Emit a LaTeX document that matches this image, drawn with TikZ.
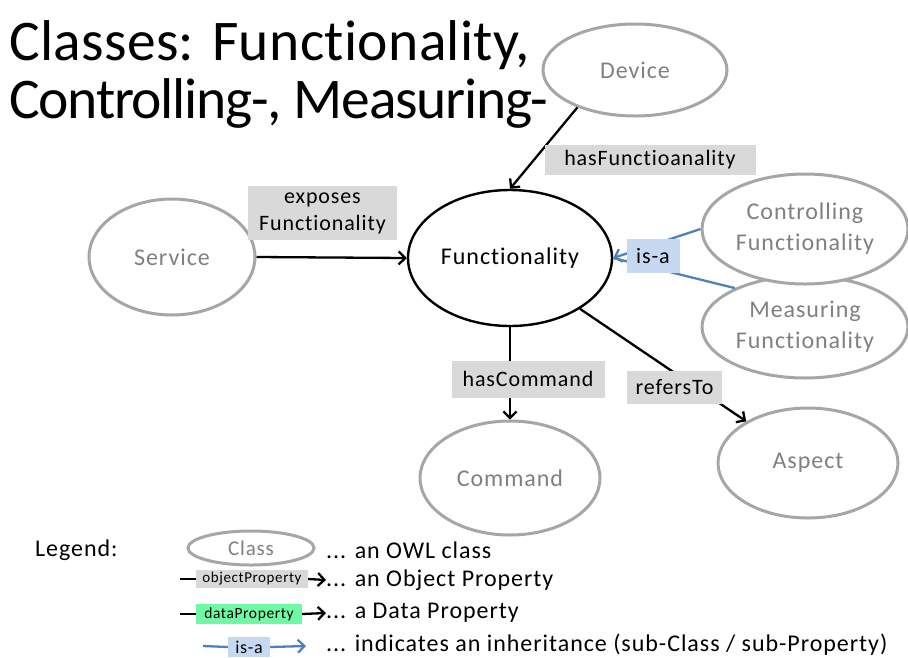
\documentclass[tikz,border=0pt]{standalone}
\usepackage{fontspec}
\setmainfont{Carlito}[Ligatures=NoCommon, LetterSpace=4]
\newfontfamily\titlefonta{Carlito}[Ligatures=NoCommon, LetterSpace=0.6]
\newfontfamily\titlefontb{Carlito}[Ligatures=NoCommon, LetterSpace=-2.2]
\usetikzlibrary{shapes.geometric,arrows.meta}
\definecolor{clsgray}{HTML}{A6A6A6}
\definecolor{txtgray}{HTML}{808080}
\definecolor{boxgray}{HTML}{D9D9D9}
\definecolor{isablue}{HTML}{4F81BD}
\definecolor{isabox}{HTML}{C6D9F1}
\definecolor{dpgreen}{HTML}{70F8A4}
\tikzset{
  cls/.style={ellipse, draw=clsgray, line width=3pt, fill=white, text=txtgray, inner sep=0pt, align=center, font=\fontsize{24}{31}\selectfont},
  mainc/.style={ellipse, draw=black, line width=2.4pt, fill=white, text=black, inner sep=0pt, font=\fontsize{24}{30}\selectfont},
  lbl/.style={fill=boxgray, inner sep=0pt, align=center, font=\fontsize{22}{27}\selectfont},
  isalbl/.style={fill=isabox, inner sep=0pt, font=\fontsize{22}{27}\selectfont},
  prop/.style={line width=2.3pt, -{Straight Barb[length=6.5pt,width=13pt,line width=2.3pt]}},
  isa/.style={line width=2.3pt, draw=isablue, -{Straight Barb[length=6.5pt,width=13pt,line width=2.3pt]}},
  legtxt/.style={anchor=west, inner sep=0pt, font=\fontsize{24}{28}\selectfont},
  titletxt/.style={anchor=base west, inner sep=0pt}
}
\begin{document}
\begin{tikzpicture}[x=1pt,y=-1pt]
\useasboundingbox (0,0) rectangle (908,657);
% title
\node[titletxt, font=\titlefonta\fontsize{57.5}{68}\selectfont] (t1) at (9,60) {Classes: Functionality,};
\node[titletxt, font=\titlefontb\fontsize{57.5}{68}\selectfont] (t2) at (9,118) {Controlling-, Measuring-};
% classes
\node[cls, minimum width=184pt, minimum height=92pt] (dev) at (635,70) {Device};
\node[cls, minimum width=166pt, minimum height=116pt] (srv) at (172,257) {Service};
\node[mainc, minimum width=204pt, minimum height=136pt] (fun) at (510,258) {Functionality};
\node[cls, minimum width=206pt, minimum height=102pt] (mea) at (805,327) {Measuring\\Functionality};
\node[cls, minimum width=206pt, minimum height=110pt] (ctl) at (805,229) {Controlling\\Functionality};
\node[cls, minimum width=180pt, minimum height=114pt] (cmd) at (510,478) {Command};
\node[cls, minimum width=180pt, minimum height=110pt] (asp) at (808,463) {Aspect};
% connectors
\draw[prop] (dev.213) -- (fun.90);
\draw[prop] (srv.east) -- (fun.west);
\draw[prop] (fun.south) -- (cmd.north);
\draw[prop] (fun.324) -- (asp.146);
\draw[isablue, line width=2.3pt] (mea.151) -- (fun.east);
\draw[isa] (ctl.west) -- (fun.east);
% labels
\node[lbl, minimum width=211pt, minimum height=30pt] (lhf) at (650,160) {hasFunctioanality};
\node[lbl, minimum width=149pt, minimum height=54pt] (lef) at (322.5,213) {exposes\\Functionality};
\node[isalbl, minimum width=53pt, minimum height=34pt] (lisa) at (653,256) {is-a};
\node[lbl, minimum width=153pt, minimum height=37pt] (lhc) at (528,379) {hasCommand};
\node[lbl, minimum width=95pt, minimum height=33pt] (lrt) at (674.5,387) {refersTo};
% legend
\node[legtxt] (leg) at (35,550) {Legend:};
\node[cls, minimum width=126pt, minimum height=34pt, font=\fontsize{21}{24}\selectfont] (lcls) at (251,548) {Class};
\node[legtxt] (lclst) at (326,550) {... an OWL class};
\coordinate (lopa) at (180,579);
\node[fill=boxgray, inner sep=0pt, minimum width=112pt, minimum height=18pt, font=\fontsize{15}{17}\selectfont] (lop) at (252,579) {objectProperty};
\node[legtxt] (lopt) at (326,580) {... an Object Property};
\draw[line width=2.3pt] (lopa) -- (lop.west);
\draw[prop] (lop.east) -- (lopt.west);
\coordinate (ldpa) at (180,614);
\node[fill=dpgreen, inner sep=0pt, minimum width=106pt, minimum height=20pt, font=\fontsize{15.5}{17}\selectfont] (ldp) at (249,614) {dataProperty};
\node[legtxt] (ldpt) at (326,613) {... a Data Property};
\draw[line width=2.3pt] (ldpa) -- (ldp.west);
\draw[prop] (ldp.east) -- (ldpt.west);
\coordinate (lisaa) at (203,646);
\coordinate (lisab) at (306,646);
\node[fill=isabox, inner sep=0pt, minimum width=42pt, minimum height=20pt, font=\fontsize{18}{20}\selectfont] (lis) at (249,647) {is-a};
\node[legtxt] (list) at (326,645) {... indicates an inheritance (sub-Class / sub-Property)};
\draw[isablue, line width=2.3pt] (lisaa) -- (lis.west);
\draw[isa] (lis.east) -- (lisab);
\end{tikzpicture}
\end{document}
